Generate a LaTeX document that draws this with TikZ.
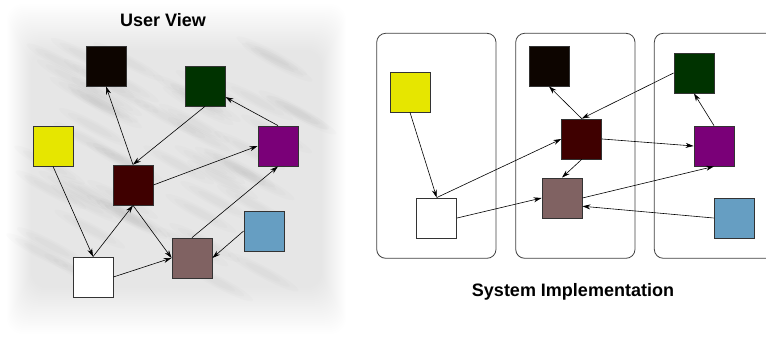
\documentclass[tikz,border=0pt]{standalone}
\usepackage{fontspec}
\setmainfont{Liberation Sans}
\usetikzlibrary{arrows.meta}

\definecolor{cBlack}{HTML}{0D0500}
\definecolor{cGreen}{HTML}{003300}
\definecolor{cYellow}{HTML}{E6E600}
\definecolor{cPurple}{HTML}{7A0078}
\definecolor{cRed}{HTML}{3F0000}
\definecolor{cBlue}{HTML}{669EC2}
\definecolor{cBrown}{HTML}{806262}

\tikzset{
  sq/.style={draw=black!80, line width=0.8pt, minimum size=40pt, inner sep=0pt},
  link/.style={-{Stealth[length=8pt,width=5pt]}, line width=0.6pt, black},
  frame/.style={draw=black!75, line width=0.8pt, rounded corners=9pt},
  heading/.style={font=\bfseries\fontsize{18}{20}\selectfont}
}

\begin{document}
\begin{tikzpicture}[x=1pt,y=-1pt]
\useasboundingbox (0,0) rectangle (766,339);
\begin{scope}
\clip (0,0) rectangle (766,339);

% soft grey backdrop behind the user view, darker towards the middle
\foreach \i in {0,...,24}{
  \fill[black, opacity=0.0055, rounded corners=16pt]
    (7+1.0*\i, 4+1.9*\i) rectangle (346-1.0*\i, 334-1.9*\i);
}
% faint diagonal streaks, each built from a few nested ellipses
\pgfmathsetseed{11}
\foreach \k in {1,...,55}{
  \pgfmathsetmacro{\px}{40+rnd*270}
  \pgfmathsetmacro{\py}{45+rnd*250}
  \foreach \s in {1.0,0.75,0.5}{
    \fill[black, opacity=0.012, rotate around={-28:(\px,\py)}]
      (\px,\py) ellipse ({40*\s} and {6*\s});
  }
}

% ---------- user view ----------
\node[heading] (uvtitle) at (163,20) {User View};

\node[sq, fill=cBlack]  (k)  at (106,66)  {};
\node[sq, fill=cGreen]  (g)  at (205,86)  {};
\node[sq, fill=cYellow] (y)  at (53,146)  {};
\node[sq, fill=cPurple] (p)  at (278,146) {};
\node[sq, fill=cRed]    (r)  at (133,185) {};
\node[sq, fill=cBlue]   (b)  at (264,231) {};
\node[sq, fill=cBrown]  (n)  at (192,258) {};
\node[sq, fill=white]   (w)  at (93,277)  {};

\draw[link] (r.north) -- (k.south);
\draw[link] (g.south) -- (r.north);
\draw[link] (p.north) -- (g);
\draw[link] (r.east) -- (p.west);
\draw[link] (w.north) -- (r.south);
\draw[link] (y.south) -- (w.north);
\draw[link] (r.south) -- (n.west);
\draw[link] (w.east) -- (n.west);
\draw[link] (n.north) -- (p.south);
\draw[link] (b.west) -- (n.east);

% ---------- system implementation ----------
\node[frame, minimum width=119.3pt, minimum height=225pt, inner sep=0pt] (f1) at (436.35,145.8) {};
\node[frame, minimum width=119.3pt, minimum height=225pt, inner sep=0pt] (f2) at (575.35,145.8) {};
\node[frame, minimum width=130pt, minimum height=225pt, inner sep=0pt] (f3) at (719.3,145.8) {};

\node[sq, fill=cYellow] (y2) at (410,92)    {};
\node[sq, fill=white]   (w2) at (436.7,218) {};
\node[sq, fill=cBlack]  (k2) at (549,66)    {};
\node[sq, fill=cRed]    (r2) at (581.7,139) {};
\node[sq, fill=cBrown]  (n2) at (562,198)   {};
\node[sq, fill=cGreen]  (g2) at (694,73)    {};
\node[sq, fill=cPurple] (p2) at (714,146)   {};
\node[sq, fill=cBlue]   (b2) at (734,218)   {};

\draw[link] (y2.south) -- (w2.north);
\draw[link] (w2.north) -- (r2.west);
\draw[link] (w2.east) -- (n2.west);
\draw[link] (r2.north) -- (k2.south);
\draw[link] (g2.west) -- (r2.north);
\draw[link] (r2.east) -- (p2.west);
\draw[link] (r2.south) -- (n2.north);
\draw[link] (n2.east) -- (p2.south);
\draw[link] (p2.north) -- (g2.south);
\draw[link] (b2.west) -- (n2.-22);

\node[heading] (sititle) at (573,292) {System Implementation};
\end{scope}
\end{tikzpicture}
\end{document}
